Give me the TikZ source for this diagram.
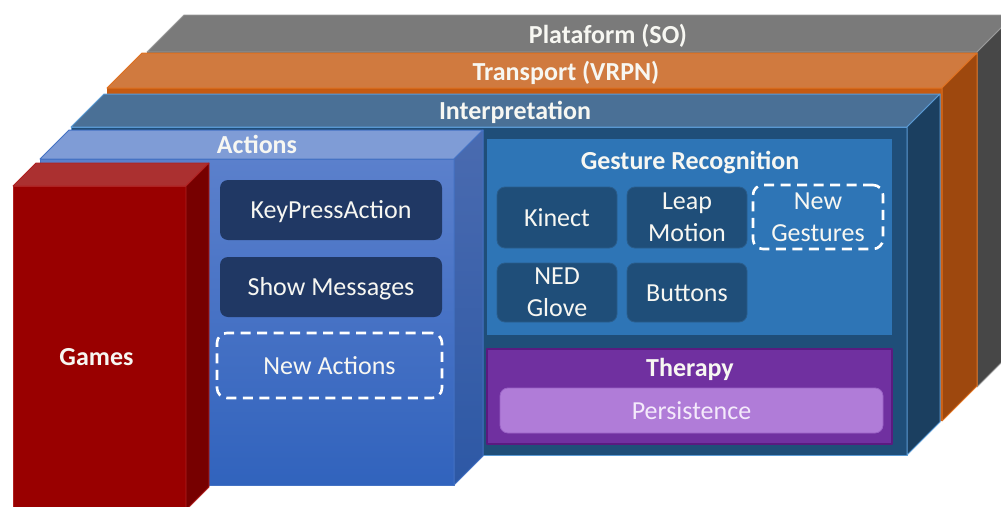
\documentclass[tikz,border=0pt]{standalone}
\usepackage{fontspec}
\setmainfont{Carlito}

% layer colours
\definecolor{platTop}{HTML}{7A7A7A}
\definecolor{platFront}{HTML}{6A6A6A}
\definecolor{platSide}{HTML}{474747}
\definecolor{platEdge}{HTML}{9A9A9A}
\definecolor{transTop}{HTML}{D07A3F}
\definecolor{transFront}{HTML}{C55A11}
\definecolor{transSide}{HTML}{9E480E}
\definecolor{transEdge}{HTML}{E0701E}
\definecolor{interpTop}{HTML}{4A7096}
\definecolor{interpFront}{HTML}{1F4E79}
\definecolor{interpSide}{HTML}{1B3F60}
\definecolor{interpEdge}{HTML}{5B9BD5}
\definecolor{actTop}{HTML}{7F9CD6}
\definecolor{actFrontA}{HTML}{5B80CC}
\definecolor{actFrontB}{HTML}{3163BD}
\definecolor{actSideA}{HTML}{4A6BB0}
\definecolor{actSideB}{HTML}{2D58A5}
\definecolor{actEdge}{HTML}{4472C4}
\definecolor{gameTop}{HTML}{AB3030}
\definecolor{gameFront}{HTML}{990000}
\definecolor{gameSide}{HTML}{770000}
\definecolor{gameEdge}{HTML}{B02020}
% inner panels
\definecolor{actBox}{HTML}{203864}
\definecolor{gestPanel}{HTML}{2E75B6}
\definecolor{gestBox}{HTML}{1F4E79}
\definecolor{gestBoxEdge}{HTML}{2A5D8C}
\definecolor{therPanel}{HTML}{7030A0}
\definecolor{therEdge}{HTML}{5A1A80}
\definecolor{persFill}{HTML}{B07CD8}
\definecolor{persEdge}{HTML}{9A62C6}
\definecolor{persText}{HTML}{F4EAFB}
\definecolor{offWhite}{HTML}{F7F7F2}

\newcommand\basefont{\fontsize{26}{32}\selectfont}

\tikzset{
  plat front/.style={fill=platFront},
  plat top/.style={fill=platTop, draw=platEdge, line width=0.8pt},
  plat side/.style={fill=platSide, draw=platEdge, line width=0.8pt},
  trans front/.style={fill=transFront},
  trans top/.style={fill=transTop, draw=transEdge, line width=1pt},
  trans side/.style={fill=transSide, draw=transEdge, line width=1pt},
  interp front/.style={fill=interpFront, draw=interpEdge, line width=1pt},
  interp top/.style={fill=interpTop, draw=interpEdge, line width=1pt},
  interp side/.style={fill=interpSide, draw=interpEdge, line width=1pt},
  act front/.style={top color=actFrontA, bottom color=actFrontB, draw=actEdge, line width=1pt},
  act top/.style={fill=actTop, draw=actEdge, line width=1pt},
  act side/.style={top color=actSideA, bottom color=actSideB, draw=actEdge, line width=1pt},
  game front/.style={fill=gameFront, draw=gameEdge, line width=0.8pt},
  game top/.style={fill=gameTop, draw=gameEdge, line width=0.8pt},
  game side/.style={fill=gameSide, draw=gameEdge, line width=0.8pt},
  layertitle/.style={anchor=base, text=offWhite, font=\basefont\bfseries, inner sep=0pt},
  capcenter/.style={text height=17pt, text depth=0pt},
  actbox/.style={rounded corners=8pt, fill=actBox, text=offWhite, inner sep=0pt,
                 minimum width=222pt, minimum height=60pt, capcenter},
  newbox/.style={rounded corners=10pt, draw=white, line width=2.6pt,
                 dash pattern=on 10pt off 6.5pt, text=offWhite, inner sep=0pt, align=center},
  gestbox/.style={rounded corners=8pt, fill=gestBox, draw=gestBoxEdge, line width=0.8pt,
                  text=offWhite, inner sep=0pt, align=center,
                  minimum width=120pt, minimum height=60pt},
  panel/.style={inner sep=0pt, minimum width=405pt},
}

% a solid block: front face, top face and right face
% #1,#2 front top-left; #3,#4 front bottom-right; #5 depth; #6 style prefix
\newcommand\slab[6]{%
  \path[#6 front] (#1,#2) rectangle (#3,#4);
  \path[#6 top] (#1,#2) -- ++(#5,-#5) -- ({#3+#5},{#2-#5}) -- (#3,#2) -- cycle;
  \path[#6 side] (#3,#2) -- ++(#5,-#5) -- ({#3+#5},{#4-#5}) -- (#3,#4) -- cycle;
}

\begin{document}
\begin{tikzpicture}[x=1pt, y=-1pt, font=\basefont, line join=round]
\useasboundingbox (0,0) rectangle (1001,506);
\clip (0,0) rectangle (1001,506);

% stacked layers, back to front
\slab{147}{52}{977}{387}{37}{plat}
\slab{107}{88}{942}{421}{35}{trans}
\slab{71}{127}{907}{455}{33}{interp}
\slab{40}{159}{454}{485}{29}{act}
\slab{13}{186}{186}{510}{23}{game}

% layer titles on the top faces
\node[layertitle] (platTitle)   at (608,43)  {Plataform (SO)};
\node[layertitle] (transTitle)  at (566,80)  {Transport (VRPN)};
\node[layertitle] (interpTitle) at (515,119) {Interpretation};
\node[layertitle] (actTitle)    at (257,153) {Actions};
\node[layertitle] (gameTitle)   at (96.5,365) {Games};

% actions
\node[actbox] (keypress) at (331,210) {KeyPressAction};
\node[actbox] (showmsg)  at (331,287) {Show Messages};
\node[newbox, capcenter, minimum width=225pt, minimum height=65pt]
      (newact) at (329.5,365.5) {New Actions};

% gesture recognition panel
\node[panel, fill=gestPanel, minimum height=196pt] (gesture) at (689.5,237) {};
\node[layertitle] (gestTitle) at (690,169) {Gesture Recognition};
\node[gestbox, capcenter, minimum height=61pt] (kinect) at (557,217.5) {Kinect};
\node[gestbox, minimum height=61pt] (leap) at (687,217.5) {Leap\\Motion};
\node[newbox, minimum width=130pt, minimum height=64pt] (newgest) at (818,217) {New\\Gestures};
\node[gestbox, minimum height=59pt] (ned) at (557,292.5) {NED\\Glove};
\node[gestbox, capcenter, minimum height=59pt] (buttons) at (687,292.5) {Buttons};

% therapy panel
\node[panel, fill=therPanel, draw=therEdge, line width=1.5pt, minimum height=95pt]
      (therapy) at (689.5,396.5) {};
\node[layertitle] (therTitle) at (690,376) {Therapy};
\node[rounded corners=8pt, fill=persFill, draw=persEdge, line width=0.8pt,
      text=persText, inner sep=0pt, capcenter, minimum width=383pt, minimum height=45pt]
      (persist) at (691.5,410.5) {Persistence};
\end{tikzpicture}
\end{document}
